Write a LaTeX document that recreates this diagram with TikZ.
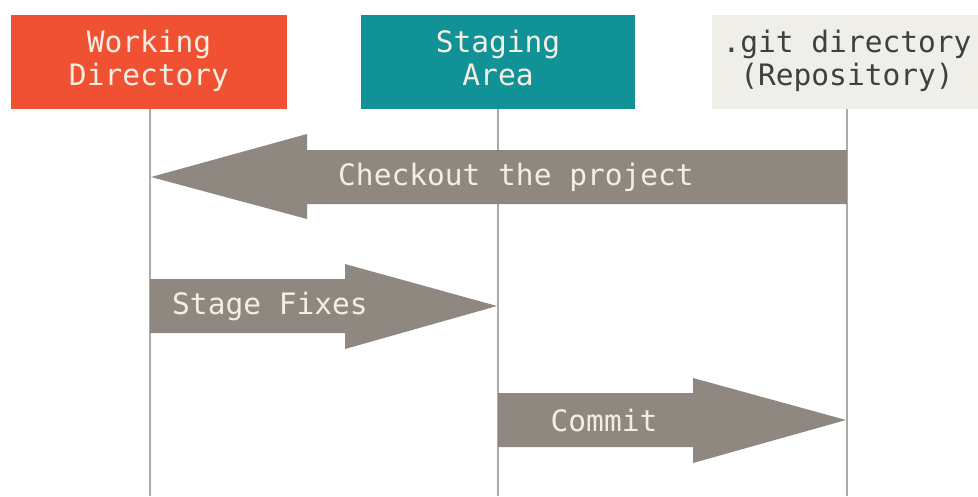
\documentclass[tikz,border=0pt]{standalone}
\usepackage{fontspec}
\usepackage{tikz}
\newfontfamily\gitmono{DejaVu Sans Mono}
\definecolor{W}{RGB}{240, 81, 51}
\definecolor{S}{RGB}{16, 146, 151}
\definecolor{R}{RGB}{239, 238, 232}
\definecolor{A}{RGB}{143, 136, 129}
\definecolor{L}{RGB}{170, 170, 170}
\definecolor{T}{RGB}{242, 238, 226}

\begin{document}
\begin{tikzpicture}[x=0.025cm, y=-0.025cm,
    areabox/.style={minimum width=276*0.025cm, minimum height=94*0.025cm, inner sep=0pt,
      align=center, font=\gitmono\fontsize{21}{23.5}\selectfont},
    lifeline/.style={L, line width=1.4pt},
    flow/.style={fill=A},
    flowtext/.style={text=T, font=\gitmono\fontsize{21}{23.5}\selectfont}]
  \useasboundingbox (0,0) rectangle (978,496);
  % the three areas
  \node[areabox, fill=W, text=T] (work) at (149,62) {Working\strut\\Directory\strut};
  \node[areabox, fill=S, text=T, minimum width=274*0.025cm] (stage) at (498,62) {Staging\strut\\Area\strut};
  \node[areabox, fill=R, text=black!75, minimum width=270*0.025cm] (repo) at (847,62) {.git directory\strut\\(Repository)\strut};
  % lifelines
  \coordinate (workend) at (150,496);
  \coordinate (stageend) at (498,496);
  \coordinate (repoend) at (847,496);
  \draw[lifeline] (work.south -| workend) -- (workend);
  \draw[lifeline] (stage.south -| stageend) -- (stageend);
  \draw[lifeline] (repo.south -| repoend) -- (repoend);
  % checkout
  \fill[flow] (847,150) -- (307,150) -- (307,134) -- (151,177) -- (307,219) -- (307,204) -- (847,204) -- cycle;
  \node[flowtext] (checkout) at (516,177) {Checkout the project};
  % stage fixes
  \fill[flow] (150,279) -- (345,279) -- (345,264) -- (497,306) -- (345,349) -- (345,333) -- (150,333) -- cycle;
  \node[flowtext] (fixes) at (270,306) {Stage Fixes};
  % commit
  \fill[flow] (498,393) -- (693,393) -- (693,378) -- (846,420) -- (693,463) -- (693,447) -- (498,447) -- cycle;
  \node[flowtext] (commit) at (604,420) {Commit};
\end{tikzpicture}
\end{document}
